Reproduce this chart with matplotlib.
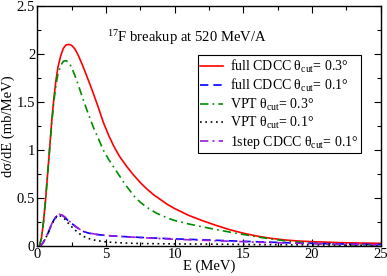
import matplotlib
matplotlib.use("Agg")
import matplotlib.pyplot as plt
from matplotlib.ticker import MultipleLocator, FuncFormatter

plt.rcParams['font.family'] = ['Liberation Serif', 'DejaVu Serif']
plt.rcParams['mathtext.fontset'] = 'custom'
plt.rcParams['mathtext.rm'] = 'Liberation Serif'
plt.rcParams['mathtext.it'] = 'Liberation Serif:italic'
plt.rcParams['mathtext.bf'] = 'Liberation Serif:bold'

# full CDCC theta_cut = 0.3
e_red = [0.15, 0.3, 0.45, 0.6, 0.75, 0.9, 1.05, 1.2, 1.35, 1.5, 1.7, 1.9, 2.1, 2.3, 2.5, 2.75, 3.0, 3.3, 3.6, 4.0, 4.4, 4.8, 5.2, 5.6, 6.0, 6.5, 7.0, 7.5, 8.0, 8.5, 9.0, 9.5, 10, 11, 12, 13, 14, 15, 16, 17, 18, 19, 20, 21, 22, 23, 24, 25]
v_red = [0.0, 0.08, 0.25, 0.48, 0.75, 1.02, 1.3, 1.53, 1.72, 1.86, 1.98, 2.06, 2.095, 2.10, 2.09, 2.05, 1.98, 1.88, 1.77, 1.62, 1.46, 1.29, 1.15, 1.03, 0.93, 0.83, 0.74, 0.66, 0.59, 0.53, 0.48, 0.43, 0.39, 0.32, 0.265, 0.215, 0.17, 0.133, 0.103, 0.08, 0.063, 0.052, 0.045, 0.04, 0.035, 0.032, 0.03, 0.028]
# full CDCC theta_cut = 0.1
e_blue = [0.2, 0.4, 0.6, 0.8, 1.0, 1.2, 1.4, 1.6, 1.8, 2.0, 2.2, 2.5, 2.8, 3.1, 3.4, 3.8, 4.3, 5.0, 6, 7, 8, 9, 10, 12, 14, 16, 18, 20, 22.5, 25]
v_blue = [0.0, 0.03, 0.08, 0.14, 0.21, 0.27, 0.31, 0.326, 0.32, 0.30, 0.27, 0.235, 0.20, 0.17, 0.148, 0.132, 0.12, 0.109, 0.10, 0.093, 0.086, 0.08, 0.074, 0.065, 0.054, 0.044, 0.035, 0.028, 0.02, 0.015]
# VPT theta_cut = 0.3
e_green = [0.15, 0.3, 0.45, 0.6, 0.75, 0.9, 1.05, 1.2, 1.35, 1.5, 1.7, 1.9, 2.1, 2.3, 2.5, 2.75, 3.0, 3.35, 3.7, 4.1, 4.5, 4.8, 5.2, 5.8, 6.4, 7.1, 7.5, 8.0, 8.7, 9.5, 10, 11, 12, 13, 14, 15, 16, 17, 18, 19, 20, 21, 22, 23, 24, 25]
v_green = [0.0, 0.08, 0.25, 0.48, 0.75, 1.02, 1.28, 1.5, 1.67, 1.79, 1.88, 1.925, 1.93, 1.91, 1.86, 1.77, 1.67, 1.52, 1.38, 1.23, 1.10, 1.0, 0.9, 0.77, 0.64, 0.51, 0.455, 0.40, 0.34, 0.29, 0.265, 0.23, 0.20, 0.172, 0.145, 0.12, 0.095, 0.073, 0.055, 0.04, 0.028, 0.02, 0.015, 0.012, 0.011, 0.01]
# VPT theta_cut = 0.1
e_black = [0.2, 0.4, 0.6, 0.8, 1.0, 1.2, 1.4, 1.6, 1.8, 2.0, 2.2, 2.5, 2.8, 3.1, 3.4, 3.8, 4.3, 5.0, 6, 7, 8, 10, 12, 15, 20, 25]
v_black = [0.0, 0.03, 0.08, 0.14, 0.21, 0.265, 0.305, 0.318, 0.305, 0.28, 0.245, 0.20, 0.16, 0.125, 0.098, 0.075, 0.057, 0.043, 0.033, 0.028, 0.025, 0.022, 0.02, 0.016, 0.011, 0.008]
# 1step CDCC theta_cut = 0.1
e_purple = [0.2, 0.4, 0.6, 0.8, 1.0, 1.2, 1.4, 1.6, 1.8, 2.0, 2.2, 2.5, 2.8, 3.1, 3.4, 3.8, 4.3, 5.0, 6, 7, 8, 9, 10, 12, 14, 16, 18, 20, 22.5, 25]
v_purple = [0.0, 0.03, 0.08, 0.145, 0.215, 0.275, 0.315, 0.33, 0.323, 0.303, 0.273, 0.238, 0.203, 0.173, 0.151, 0.134, 0.122, 0.11, 0.1, 0.092, 0.084, 0.077, 0.07, 0.06, 0.05, 0.04, 0.032, 0.025, 0.018, 0.013]

labels = [u'full CDCC θ$_{\\rm cut}$= 0.3°',
          u'full CDCC θ$_{\\rm cut}$= 0.1°',
          u'VPT θ$_{\\rm cut}$= 0.3°',
          u'VPT θ$_{\\rm cut}$= 0.1°',
          u'1step CDCC θ$_{\\rm cut}$= 0.1°']

fig = plt.figure(figsize=(3.87, 2.76), dpi=100)
ax = fig.add_axes([0.0964, 0.1087, 0.8876, 0.8696])

lw = 1.2
ax.plot(e_red, v_red, color='#ff0000', lw=lw, ls='-', label=labels[0])
ax.plot(e_blue, v_blue, color='#0000ff', lw=lw, ls=(0, (5, 3)), label=labels[1])
ax.plot(e_green, v_green, color='#008c00', lw=lw, ls=(0, (5, 2.5, 1, 2.5)), label=labels[2])
ax.plot(e_black, v_black, color='black', lw=lw, ls=(0, (1, 2.2)), label=labels[3])
ax.plot(e_purple, v_purple, color='#9a1adf', lw=lw, ls=(0, (5, 2.5, 1.2, 2.5)), label=labels[4])

ax.set_xlim(0, 25)
ax.set_ylim(0, 2.5)
ax.xaxis.set_major_locator(MultipleLocator(5))
ax.xaxis.set_minor_locator(MultipleLocator(2.5))
ax.yaxis.set_major_locator(MultipleLocator(0.5))
ax.yaxis.set_minor_locator(MultipleLocator(0.25))
ax.tick_params(which='both', direction='in', top=True, right=True, labelsize=10.5, width=0.8)
ax.tick_params(which='major', length=5)
ax.tick_params(which='minor', length=3)
ax.tick_params(axis='x', pad=1.5)
ax.tick_params(axis='y', pad=1.5)

def fmt(v, pos):
    return '%g' % v
ax.xaxis.set_major_formatter(FuncFormatter(fmt))
ax.yaxis.set_major_formatter(FuncFormatter(fmt))

for s in ax.spines.values():
    s.set_linewidth(1.0)

ax.set_xlabel('E (MeV)', fontsize=10.5, labelpad=-1)
ax.set_ylabel(u'dσ/dE (mb/MeV)', fontsize=10.5, labelpad=1)

ax.text(0.436, 0.868, r'$^{17}$F breakup at 520 MeV/A', transform=ax.transAxes,
        ha='center', va='center', fontsize=10.5)

leg = ax.legend(loc='upper right', bbox_to_anchor=(0.942, 0.796), borderaxespad=0,
                fontsize=10, handlelength=1.6, handletextpad=0.5, labelspacing=0.17,
                borderpad=0.2, fancybox=False, framealpha=1, edgecolor='black')
leg.get_frame().set_linewidth(0.8)

fig.savefig('out.png', dpi=100)
